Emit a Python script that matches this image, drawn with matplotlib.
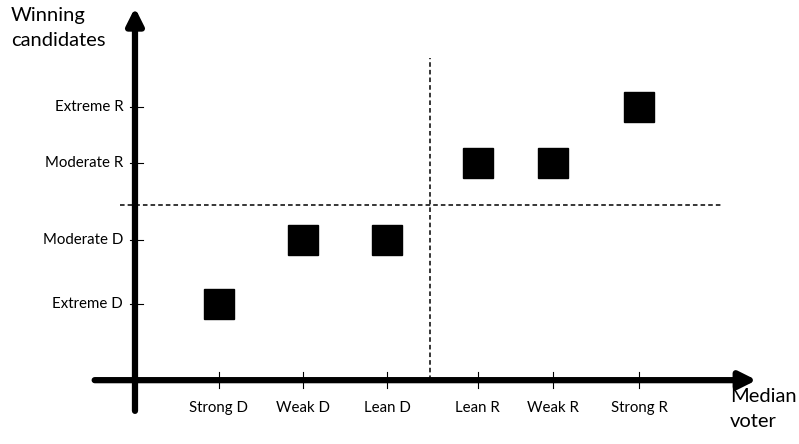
import matplotlib
matplotlib.use('Agg')
import matplotlib.pyplot as plt
import numpy as np

# categories on each axis
x_labels = ['Strong D', 'Weak D', 'Lean D', 'Lean R', 'Weak R', 'Strong R']
y_labels = ['Extreme D', 'Moderate D', 'Moderate R', 'Extreme R']
# tick positions (in axis units)
x_ticks = [1, 2, 3, 4.08, 4.98, 6]
y_ticks = [1, 2, 3.2, 4.08]
# winning candidate per median voter category (index into y_labels)
winners = [0, 1, 1, 2, 2, 3]

plt.rcParams['font.family'] = ['Lato', 'DejaVu Sans']

fig = plt.figure(figsize=(7.99, 4.44), dpi=100)
ax = fig.add_axes([0, 0, 1, 1])
ax.set_xlim(-1.607, 7.905)
ax.set_ylim(-1.1875, 5.75)
ax.axis('off')

x_axis_y = -0.19
y_axis_x = 0.0

# axes with arrow heads
ax.annotate('', xy=(7.40, x_axis_y), xytext=(-0.48, x_axis_y),
            arrowprops=dict(arrowstyle='-|>,head_length=1.0,head_width=0.5',
                            lw=4.5, color='black', shrinkA=0, shrinkB=0))
ax.annotate('', xy=(y_axis_x, 5.63), xytext=(y_axis_x, -0.67),
            arrowprops=dict(arrowstyle='-|>,head_length=1.0,head_width=0.5',
                            lw=4.5, color='black', shrinkA=0, shrinkB=0))

# ticks and labels
for xt, lab in zip(x_ticks, x_labels):
    ax.plot([xt, xt], [x_axis_y - 0.12, x_axis_y + 0.12], color='black', lw=0.8)
    ax.text(xt, x_axis_y - 0.44, lab, ha='center', va='center', fontsize=10.8)
for yt, lab in zip(y_ticks, y_labels):
    ax.plot([y_axis_x - 0.06, y_axis_x + 0.09], [yt, yt], color='black', lw=0.8)
    ax.text(y_axis_x - 0.14, yt, lab, ha='right', va='center', fontsize=10.8)

# dividers
ax.plot([-0.178, 7.0], [2.55, 2.55], color='black', lw=1.1, linestyle=(0, (3, 2)))
ax.plot([3.51, 3.51], [x_axis_y, 4.84], color='black', lw=1.1, linestyle=(0, (3, 2)))

# winning candidates
ax.plot(x_ticks, [y_ticks[w] for w in winners], 's', color='black',
        markersize=21, linestyle='none')

# axis titles
ax.text(-1.48, 5.64, 'Winning\ncandidates', ha='left', va='top', fontsize=14.5,
        linespacing=1.6)
ax.text(7.08, -0.31, 'Median\nvoter', ha='left', va='top', fontsize=14.5,
        linespacing=1.6)

plt.savefig('out.png', dpi=100)
